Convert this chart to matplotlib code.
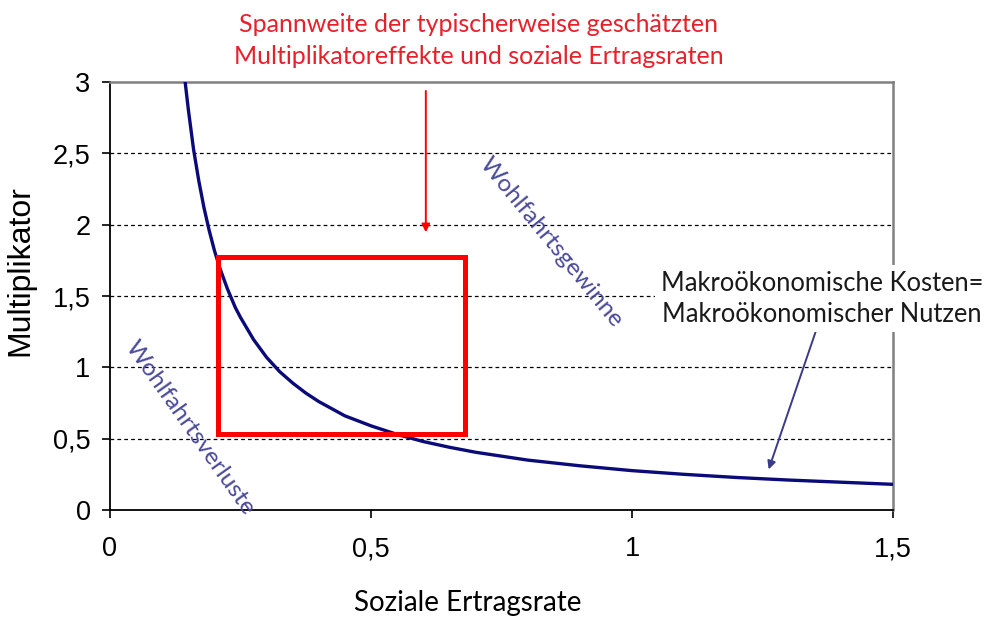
import matplotlib
matplotlib.use("Agg")
import numpy as np
from matplotlib import pyplot as plt
from matplotlib.patches import Rectangle

# curve (Soziale Ertragsrate -> Multiplikator)
rate = [0.144, 0.15, 0.16, 0.17, 0.18, 0.19, 0.2, 0.21, 0.225, 0.24, 0.25, 0.275,
        0.3, 0.325, 0.35, 0.375, 0.4, 0.45, 0.5, 0.55, 0.6, 0.65, 0.7,
        0.8, 0.9, 1.0, 1.1, 1.2, 1.3, 1.4, 1.5]
multiplier = [3.0, 2.81, 2.53, 2.31, 2.12, 1.96, 1.82, 1.70, 1.55, 1.42, 1.35, 1.195,
              1.07, 0.97, 0.89, 0.82, 0.76, 0.66, 0.59, 0.53, 0.48, 0.44, 0.405,
              0.35, 0.31, 0.276, 0.25, 0.228, 0.21, 0.195, 0.18]

# range of typical estimates (red box)
box_rate = [0.207, 0.68]
box_mult = [0.533, 1.773]

xticks = [0, 0.5, 1, 1.5]
xticklabels = ['0', '0,5', '1', '1,5']
yticks = [0, 0.5, 1, 1.5, 2, 2.5, 3]
yticklabels = ['0', '0,5', '1', '1,5', '2', '2,5', '3']

calibri = ['Lato', 'DejaVu Sans']
arial = ['Liberation Sans', 'DejaVu Sans']

fig = plt.figure(figsize=(9.89, 6.2), dpi=100)
ax = fig.add_axes([0.1112, 0.1774, 0.7918, 0.6903])
ax.set_xlim(0, 1.5)
ax.set_ylim(0, 3)

for y in yticks[1:-1]:
    ax.axhline(y, color='black', lw=0.9, ls=(0, (3, 2.5)), zorder=1)

ax.plot(rate, multiplier, color='#0a0a78', lw=2.4, zorder=3)

ax.add_patch(Rectangle((box_rate[0], box_mult[0]), box_rate[1] - box_rate[0],
                       box_mult[1] - box_mult[0], fill=False, ec='#ff0000', lw=3.6, zorder=4))

ax.set_xticks(xticks)
ax.set_xticklabels(xticklabels, family=arial, fontsize=19.5)
ax.set_yticks(yticks)
ax.set_yticklabels(yticklabels, family=arial, fontsize=19.5)
ax.tick_params(direction='out', length=6, width=1.2)
ax.tick_params(axis='x', pad=13)
ax.tick_params(axis='y', pad=8)

for s in ['left', 'bottom']:
    ax.spines[s].set_color('black')
    ax.spines[s].set_linewidth(1.3)
for s in ['top', 'right']:
    ax.spines[s].set_color('#808080')
    ax.spines[s].set_linewidth(1.8)

ax.set_ylabel('Multiplikator', family=arial, fontsize=23)
ax.yaxis.set_label_coords(-0.095, 0.56)
ax.set_xlabel('Soziale Ertragsrate', family=calibri, fontsize=20)
ax.xaxis.set_label_coords(0.457, -0.188)

# red title and arrow
fig.text(0.484, 0.935, 'Spannweite der typischerweise geschätzten\nMultiplikatoreffekte und soziale Ertragsraten',
         ha='center', va='center', color='#e8202a', family=calibri, fontsize=18, linespacing=1.45)
ax.annotate('', xy=(0.605, 1.927), xytext=(0.605, 2.957),
            arrowprops=dict(arrowstyle='-|>', color='#ff0000', lw=1.4, mutation_scale=12),
            annotation_clip=False, zorder=5)

# rotated labels
ax.text(0.153, 0.575, 'Wohlfahrtsverluste', rotation=-54.7, ha='center', va='center',
        color='#4a4a9a', family=calibri, fontsize=17.6, rotation_mode='anchor', zorder=5)
ax.text(0.845, 1.878, 'Wohlfahrtsgewinne', rotation=-50.6, ha='center', va='center',
        color='#4a4a9a', family=calibri, fontsize=17.6, rotation_mode='anchor', zorder=5)

# annotation with blue arrow
ax.annotate('', xy=(1.26, 0.266), xytext=(1.356, 1.296),
            arrowprops=dict(arrowstyle='-|>', color='#3a3a8a', lw=1.4, mutation_scale=12), zorder=5)
fig.text(0.831, 0.518, 'Makroökonomische Kosten=\nMakroökonomischer Nutzen', ha='center', va='center',
         color='#1a1a1a', family=calibri, fontsize=18.4, linespacing=1.3,
         bbox=dict(fc='white', ec='none', pad=4), zorder=10)

fig.savefig('out.png', dpi=100)
